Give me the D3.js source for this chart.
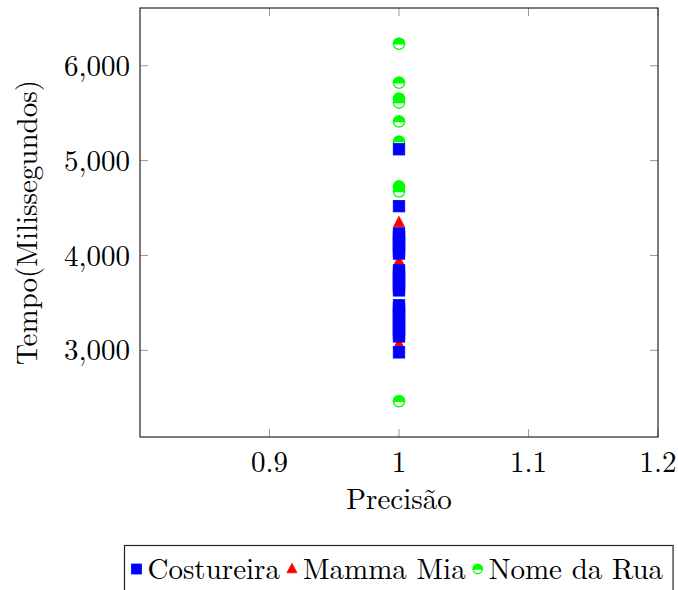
<!DOCTYPE html>
<html>
<head>
<meta charset="utf-8">
<script src="https://cdn.jsdelivr.net/npm/d3@7"></script>
<style>
    body { margin: 0; background: #fff; }
    text { font-family: "Latin Modern Roman", "CMU Serif", "Liberation Serif", serif; fill: #000; }
</style>
</head>
<body>
<div id="chart"></div>
<script>
// Tempo (ms) per execution, all at Precisão = 1
var costureira = [5120, 4520, 4232, 4200, 4165, 4130, 4090, 4050, 4021, 3842, 3810, 3775, 3740, 3700, 3665, 3632,
    3474, 3440, 3400, 3370, 3330, 3290, 3250, 3215, 3180, 3147, 2979];
var mammaMia = [4347, 4100, 3937, 3750, 3400, 3200, 3063];
var nomeDaRua = [6232, 5821, 5653, 5611, 5411, 5200, 4726, 4674, 2463];
var precisao = 1;

var seriesNames = ["Costureira", "Mamma Mia", "Nome da Rua"];
var xTicks = [0.9, 1, 1.1, 1.2];
var yTicks = [3000, 4000, 5000, 6000];

var margin = { top: 8, right: 20, bottom: 153, left: 140 };
var W = 678, H = 590;
var width = W - margin.left - margin.right,
    height = H - margin.top - margin.bottom;

var svg = d3.select("#chart").append("svg")
    .attr("width", W)
    .attr("height", H);

var g = svg.append("g")
    .attr("transform", "translate(" + margin.left + "," + margin.top + ")");

// pgfplots style: enlarge y limits by 10% of data range
var allY = costureira.concat(mammaMia, nomeDaRua);
var yMin = d3.min(allY), yMax = d3.max(allY);
var pad = (yMax - yMin) * 0.1;

var x = d3.scaleLinear().domain([0.8, 1.2]).range([0, width]);
var y = d3.scaleLinear().domain([yMin - pad, yMax + pad]).range([height, 0]);

var tickLen = 8, tickColor = "#999";

// ticks (inside, mirrored)
g.selectAll(".ytick").data(yTicks).enter().append("g")
    .each(function (d) {
        var s = d3.select(this);
        s.append("line").attr("x1", 0).attr("x2", tickLen).attr("y1", y(d)).attr("y2", y(d))
            .attr("stroke", tickColor);
        s.append("line").attr("x1", width).attr("x2", width - tickLen).attr("y1", y(d)).attr("y2", y(d))
            .attr("stroke", tickColor);
        s.append("text").attr("x", -10).attr("y", y(d)).attr("dy", "0.35em")
            .attr("text-anchor", "end").style("font-size", "29px")
            .text(d3.format(",")(d));
    });

g.selectAll(".xtick").data(xTicks).enter().append("g")
    .each(function (d) {
        var s = d3.select(this);
        s.append("line").attr("x1", x(d)).attr("x2", x(d)).attr("y1", height).attr("y2", height - tickLen)
            .attr("stroke", tickColor);
        s.append("line").attr("x1", x(d)).attr("x2", x(d)).attr("y1", 0).attr("y2", tickLen)
            .attr("stroke", tickColor);
        s.append("text").attr("x", x(d)).attr("y", height + 35)
            .attr("text-anchor", "middle").style("font-size", "29px")
            .text(d3.format("")(d));
    });

// axis box
g.append("rect")
    .attr("width", width).attr("height", height)
    .attr("fill", "none").attr("stroke", "#222").attr("stroke-width", 1.2);

// labels
g.append("text")
    .attr("x", width / 2).attr("y", height + 72)
    .attr("text-anchor", "middle").style("font-size", "29px")
    .text("Precisão");

g.append("text")
    .attr("transform", "translate(" + (37 - margin.left) + "," + (height / 2) + ") rotate(-90)")
    .attr("text-anchor", "middle").style("font-size", "29px")
    .text("Tempo(Milissegundos)");

// markers
function square(sel, cx, cy, s, col) {
    sel.append("rect").attr("x", cx - s / 2).attr("y", cy - s / 2)
        .attr("width", s).attr("height", s)
        .attr("fill", col).attr("stroke", col).attr("stroke-width", 0.8);
}
function triangle(sel, cx, cy, s, col) {
    var h = s * 0.95;
    sel.append("path")
        .attr("d", "M" + cx + "," + (cy - h * 0.6) + "L" + (cx + s / 2) + "," + (cy + h * 0.4) +
            "L" + (cx - s / 2) + "," + (cy + h * 0.4) + "Z")
        .attr("fill", col).attr("stroke", col).attr("stroke-width", 0.8);
}
function halfCircle(sel, cx, cy, r, col) {
    sel.append("circle").attr("cx", cx).attr("cy", cy).attr("r", r)
        .attr("fill", "#fff").attr("stroke", col).attr("stroke-width", 1.3);
    sel.append("path")
        .attr("d", "M" + (cx - r) + "," + cy + "A" + r + "," + r + " 0 0 1 " + (cx + r) + "," + cy + "Z")
        .attr("fill", col).attr("stroke", col).attr("stroke-width", 1.3);
}

var colors = { "Costureira": "#0000ff", "Mamma Mia": "#ff0000", "Nome da Rua": "#00ff00" };

var pts = g.append("g").attr("class", "points");
nomeDaRua.forEach(function (d) { halfCircle(pts, x(precisao), y(d), 5.6, colors["Nome da Rua"]); });
mammaMia.forEach(function (d) { triangle(pts, x(precisao), y(d), 11, colors["Mamma Mia"]); });
costureira.forEach(function (d) { square(pts, x(precisao), y(d), 11.5, colors["Costureira"]); });

// legend
var legend = svg.append("g").attr("class", "legend");
var lx = 124.5, ly = 545.5, baseY = 579;
var box = legend.append("rect").attr("y", ly).attr("height", 60)
    .attr("fill", "#fff").attr("stroke", "#222").attr("stroke-width", 1.2);
var cur = lx + 12;
seriesNames.forEach(function (name) {
    var cy = 569;
    if (name === "Costureira") square(legend, cur, cy, 10, colors[name]);
    if (name === "Mamma Mia") triangle(legend, cur, cy, 10, colors[name]);
    if (name === "Nome da Rua") halfCircle(legend, cur, cy, 4.6, colors[name]);
    var t = legend.append("text").attr("x", cur + 11).attr("y", baseY)
        .style("font-size", "29px").text(name);
    cur = cur + 11 + t.node().getComputedTextLength() + 12;
});
box.attr("x", lx).attr("width", cur - 12 + 10 - lx);
</script>
</body>
</html>
